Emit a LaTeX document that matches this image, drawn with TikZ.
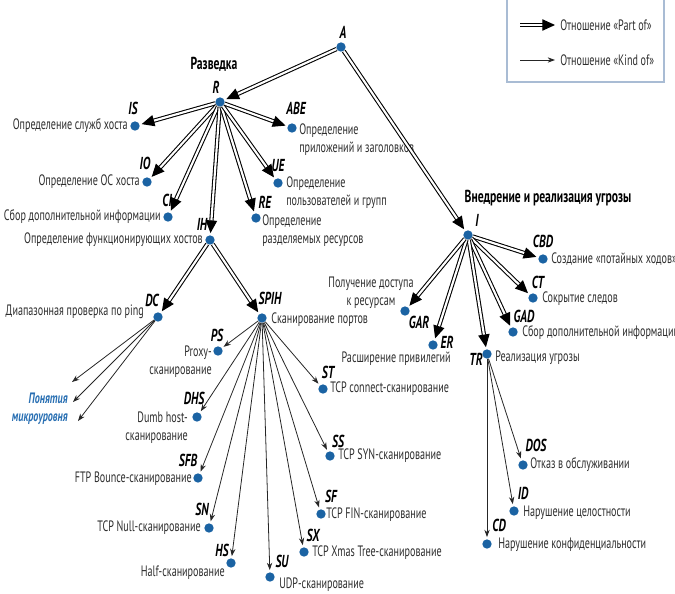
\documentclass[tikz,border=0pt]{standalone}
\usepackage{fontspec}
\setmainfont[FakeStretch=0.67]{PT Sans}
\usetikzlibrary{arrows.meta}
\definecolor{vtxCol}{HTML}{1B63A3}
\definecolor{txtCol}{HTML}{2E2E2E}
\definecolor{microCol}{HTML}{2A70B3}
\definecolor{boxEdge}{HTML}{A9BCD4}
\tikzset{
  vtx/.style={circle, fill=vtxCol, inner sep=0pt, minimum size=7pt},
  tag/.style={font=\fontsize{13}{14}\selectfont\bfseries\itshape, inner sep=0pt, text=black},
  txt/.style={font=\fontsize{11.3}{13.5}\selectfont, text=txtCol, inner sep=0pt, align=left},
  head/.style={font=\fontsize{13}{14}\selectfont\bfseries, inner sep=0pt, text=black},
  partof/.style={double, line width=0.8pt, double distance=1.6pt,
        -{Triangle[length=9.5pt,width=8.5pt]}, shorten >=1.5pt},
  kindof/.style={draw=black!85, line width=0.6pt, -{Stealth[length=5.5pt,width=4pt]}, shorten >=1.5pt},
}

\begin{document}
\begin{tikzpicture}[x=0.75pt,y=-0.75pt]
  \clip (0,0) rectangle (675,593);
  % legend
  \draw[boxEdge, line width=0.8pt] (507,0) -- (507,82) -- (664,82) -- (664,0);
  \coordinate (lgA1) at (520,25); \coordinate (lgA2) at (555,25);
  \coordinate (lgB1) at (520,60); \coordinate (lgB2) at (555,60);
  \draw[partof, shorten >=0pt] (lgA1) -- (lgA2);
  \draw[kindof, shorten >=0pt] (lgB1) -- (lgB2);
  \node[txt, anchor=west] (lgA) at (560,25) {Отношение «Part of»};
  \node[txt, anchor=west] (lgB) at (560,60) {Отношение «Kind of»};
  % root
  \node[vtx] (A) at (341,47) {};
  \node[tag] (A-tag) at (343,32) {A};
  % reconnaissance
  \node[vtx] (R) at (220,102) {};
  \node[tag] (R-tag) at (216,87) {R};
  \node[head] (R-head) at (214,64) {Разведка};
  \node[vtx] (IS) at (135,126) {};
  \node[tag] (IS-tag) at (133,108) {IS};
  \node[txt, anchor=east] (IS-txt) at (128,126) {Определение служб хоста};
  \node[vtx] (IO) at (147,182) {};
  \node[tag] (IO-tag) at (145,163) {IO};
  \node[txt, anchor=east] (IO-txt) at (140,182) {Определение ОС хоста};
  \node[vtx] (CI) at (168,217) {};
  \node[tag] (CI-tag) at (167,200) {CI};
  \node[txt, anchor=east] (CI-txt) at (161,217) {Сбор дополнительной информации};
  \node[vtx] (IH) at (210,240) {};
  \node[tag] (IH-tag) at (202,224) {IH};
  \node[txt, anchor=east] (IH-txt) at (203,240) {Определение функционирующих хостов};
  \node[vtx] (ABE) at (292,128) {};
  \node[tag] (ABE-tag) at (296,108) {ABE};
  \node[txt, anchor=west] (ABE-txt) at (299,139.5) {Определение\\приложений и заголовков};
  \node[vtx] (UE) at (278,183) {};
  \node[tag] (UE-tag) at (278,166) {UE};
  \node[txt, anchor=west] (UE-txt) at (286,193) {Определение\\пользователей и групп};
  \node[vtx] (RE) at (256,218) {};
  \node[tag] (RE-tag) at (265,202) {RE};
  \node[txt, anchor=west] (RE-txt) at (262,230.5) {Определение\\разделяемых ресурсов};
  % host discovery
  \node[vtx] (DC) at (158,317) {};
  \node[tag] (DC-tag) at (152,300) {DC};
  \node[txt, anchor=east] (DC-txt) at (144,312) {Диапазонная проверка по ping};
  \coordinate (mc1) at (72,382); \coordinate (mc2) at (73,402); \coordinate (mc3) at (78,421);
  \node[txt, anchor=east, align=right, text=microCol, font=\fontsize{11.3}{13.5}\selectfont\bfseries\itshape]
       (micro) at (68,409) {Понятия\\микроуровня};
  % port scanning
  \node[vtx] (SPIH) at (262,318) {};
  \node[tag] (SPIH-tag) at (270,298) {SPIH};
  \node[txt, anchor=west] (SPIH-txt) at (271,320) {Сканирование портов};
  \node[vtx] (PS) at (218,351) {};
  \node[tag] (PS-tag) at (217,335) {PS};
  \node[txt, anchor=east, align=right] (PS-txt) at (212,362) {Proxy-\\сканирование};
  \node[vtx] (DHS) at (197,417) {};
  \node[tag] (DHS-tag) at (194,398) {DHS};
  \node[txt, anchor=east, align=right] (DHS-txt) at (188,427.5) {Dumb host-\\сканирование};
  \node[vtx] (SFB) at (198,478) {};
  \node[tag] (SFB-tag) at (188,460) {SFB};
  \node[txt, anchor=east] (SFB-txt) at (192,479) {FTP Bounce-сканирование};
  \node[vtx] (SN) at (209,528) {};
  \node[tag] (SN-tag) at (202,509) {SN};
  \node[txt, anchor=east] (SN-txt) at (201,528) {TCP Null-сканирование};
  \node[vtx] (HS) at (231,563) {};
  \node[tag] (HS-tag) at (222,550) {HS};
  \node[txt, anchor=east] (HS-txt) at (225,573) {Half-сканирование};
  \node[vtx] (SU) at (270,577) {};
  \node[tag] (SU-tag) at (282,561) {SU};
  \node[txt, anchor=west] (SU-txt) at (279,585) {UDP-сканирование};
  \node[vtx] (SX) at (304,552) {};
  \node[tag] (SX-tag) at (313,535) {SX};
  \node[txt, anchor=west] (SX-txt) at (312,553) {TCP Xmas Tree-сканирование};
  \node[vtx] (SF) at (321,514) {};
  \node[tag] (SF-tag) at (331,496) {SF};
  \node[txt, anchor=west] (SF-txt) at (326,515) {TCP FIN-сканирование};
  \node[vtx] (SS) at (330,456) {};
  \node[tag] (SS-tag) at (338,441) {SS};
  \node[txt, anchor=west] (SS-txt) at (338,456) {TCP SYN-сканирование};
  \node[vtx] (ST) at (323,389) {};
  \node[tag] (ST-tag) at (328,372) {ST};
  \node[txt, anchor=west] (ST-txt) at (330,389) {TCP connect-сканирование};
  % intrusion
  \node[vtx] (I) at (468,235) {};
  \node[tag] (I-tag) at (477,220) {I};
  \node[head] (I-head) at (548,198) {Внедрение и реализация угрозы};
  \node[vtx] (CBD) at (543,259) {};
  \node[tag] (CBD-tag) at (543,241) {CBD};
  \node[txt, anchor=west] (CBD-txt) at (551,259) {Создание «потайных ходов»};
  \node[vtx] (CT) at (533,298) {};
  \node[tag] (CT-tag) at (538,282) {CT};
  \node[txt, anchor=west] (CT-txt) at (542,299) {Сокрытие следов};
  \node[vtx] (GAD) at (513,332) {};
  \node[tag] (GAD-tag) at (524,316) {GAD};
  \node[txt, anchor=west] (GAD-txt) at (522,333) {Сбор дополнительной информации};
  \node[vtx] (GAR) at (405,311) {};
  \node[tag] (GAR-tag) at (419,322) {GAR};
  \node[txt, anchor=center, align=center] (GAR-txt) at (371,293) {Получение доступа\\к ресурсам};
  \node[vtx] (ER) at (433,345) {};
  \node[tag] (ER-tag) at (447,342) {ER};
  \node[txt, anchor=east] (ER-txt) at (451,359) {Расширение привилегий};
  \node[vtx] (TR) at (487,354) {};
  \node[tag] (TR-tag) at (476,359) {TR};
  \node[txt, anchor=west] (TR-txt) at (495,358) {Реализация угрозы};
  \node[vtx] (DOS) at (523,465) {};
  \node[tag] (DOS-tag) at (536,445) {DOS};
  \node[txt, anchor=west] (DOS-txt) at (530,465) {Отказ в обслуживании};
  \node[vtx] (ID) at (514,511) {};
  \node[tag] (ID-tag) at (523,493) {ID};
  \node[txt, anchor=west] (ID-txt) at (523,513) {Нарушение целостности};
  \node[vtx] (CD) at (487,544) {};
  \node[tag] (CD-tag) at (499,525) {CD};
  \node[txt, anchor=west] (CD-txt) at (498,545) {Нарушение конфиденциальности};
  % part-of edges
  \draw[partof] (A)--(R); \draw[partof] (A)--(I);
  \draw[partof] (R)--(IS); \draw[partof] (R)--(IO); \draw[partof] (R)--(CI); \draw[partof] (R)--(IH);
  \draw[partof] (R)--(RE); \draw[partof] (R)--(UE); \draw[partof] (R)--(ABE);
  \draw[partof] (IH)--(DC); \draw[partof] (IH)--(SPIH);
  \draw[partof] (I)--(CBD); \draw[partof] (I)--(CT); \draw[partof] (I)--(GAD);
  \draw[partof] (I)--(TR); \draw[partof] (I)--(ER); \draw[partof] (I)--(GAR);
  % kind-of edges
  \draw[kindof, shorten >=0pt] (DC)--(mc1); \draw[kindof, shorten >=0pt] (DC)--(mc2);
  \draw[kindof, shorten >=0pt] (DC)--(mc3);
  \draw[kindof] (SPIH)--(PS); \draw[kindof] (SPIH)--(DHS); \draw[kindof] (SPIH)--(SFB);
  \draw[kindof] (SPIH)--(SN); \draw[kindof] (SPIH)--(HS); \draw[kindof] (SPIH)--(SU);
  \draw[kindof] (SPIH)--(SX); \draw[kindof] (SPIH)--(SF); \draw[kindof] (SPIH)--(SS);
  \draw[kindof] (SPIH)--(ST);
  \draw[kindof] (TR)--(DOS); \draw[kindof] (TR)--(ID); \draw[kindof] (TR)--(CD);
\end{tikzpicture}
\end{document}
